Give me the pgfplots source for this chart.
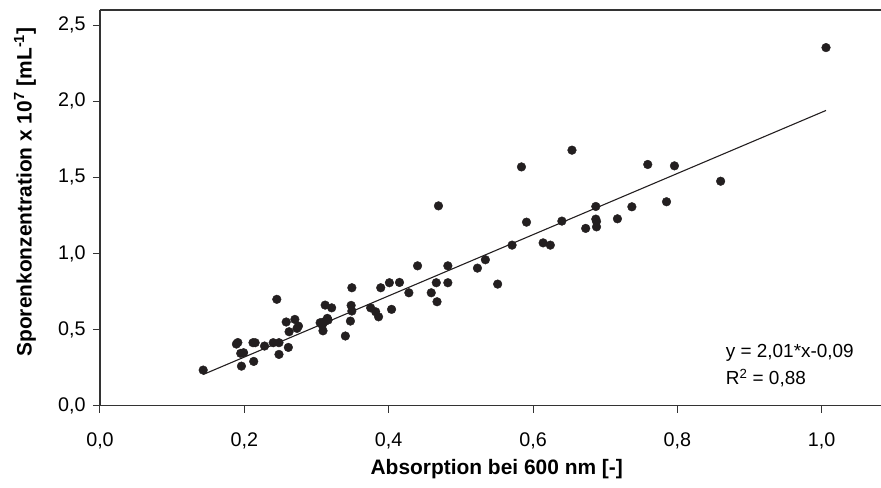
\documentclass[border=0pt]{standalone}
\usepackage{fontspec}
\setmainfont{Liberation Sans}
\usepackage{pgfplots}
\pgfplotsset{compat=1.18}
\definecolor{dot}{HTML}{231F20}
\definecolor{axc}{HTML}{333333}
\newcommand{\tf}{\fontsize{19.8}{23}\selectfont}
\newcommand{\af}{\fontsize{19}{23}\selectfont}
\newcommand{\lf}{\fontsize{21}{25}\selectfont}
\begin{document}
\begin{tikzpicture}
\begin{axis}[
  scale only axis, width=781bp, height=395.7bp,
  xmin=0, xmax=1.0822, ymin=0, ymax=2.6,
  axis x line*=box, axis y line*=left,
  axis line style={-, line width=1.1bp, axc},
  xtick={0,0.2,0.4,0.6,0.8,1.0}, ytick={0,0.5,1.0,1.5,2.0,2.5},
  xtick pos=bottom, ytick pos=left,
  tick align=outside, major tick length=7bp,
  tick style={line width=1bp, axc},
  minor tick num=0,
  /pgf/number format/.cd, assume math mode=true, use comma, fixed, fixed zerofill, precision=1,
  /pgfplots/.cd,
  ticklabel style={font=\tf},
  xticklabel style={yshift=-17bp},
  yticklabel style={xshift=-4bp},
  xlabel={\textbf{Absorption bei 600 nm [-]}},
  ylabel={\textbf{Sporenkonzentration x 10\textsuperscript{7} [mL\textsuperscript{-1}]}},
  label style={font=\lf},
  xlabel style={at={(axis description cs:0.508,-0.16)}, anchor=center},
  ylabel style={at={(axis description cs:-0.096,0.54)}, anchor=center, rotate=0},
  clip=false,
]
\addplot[only marks, mark=*, mark size=4.35bp, color=dot, mark options={draw=dot, fill=dot}] coordinates {
(0.143,0.234) (0.189,0.405) (0.191,0.415) (0.195,0.344) (0.199,0.348)
(0.196,0.260) (0.212,0.414) (0.215,0.414) (0.213,0.291) (0.228,0.392)
(0.240,0.414) (0.248,0.414) (0.248,0.337) (0.245,0.699) (0.261,0.383)
(0.258,0.550) (0.262,0.486) (0.270,0.567) (0.275,0.523) (0.273,0.508)
(0.312,0.661) (0.321,0.643) (0.305,0.545) (0.308,0.530) (0.315,0.574)
(0.316,0.563) (0.309,0.492) (0.311,0.552) (0.340,0.458) (0.349,0.775)
(0.348,0.659) (0.349,0.622) (0.347,0.556) (0.375,0.643) (0.382,0.617)
(0.386,0.584) (0.389,0.775) (0.401,0.808) (0.415,0.810) (0.404,0.633)
(0.428,0.742) (0.440,0.919) (0.459,0.742) (0.466,0.808) (0.467,0.683)
(0.469,1.313) (0.482,0.919) (0.482,0.808) (0.523,0.904) (0.534,0.959)
(0.551,0.799) (0.571,1.055) (0.584,1.569) (0.591,1.206) (0.614,1.070)
(0.624,1.055) (0.640,1.213) (0.654,1.679) (0.673,1.165) (0.687,1.309)
(0.687,1.226) (0.688,1.211) (0.688,1.175) (0.717,1.228) (0.737,1.307)
(0.759,1.585) (0.785,1.340) (0.796,1.576) (0.860,1.475) (1.006,2.353)
};
\addplot[line width=1.1bp, color=dot, no marks] coordinates {(0.143,0.205) (1.006,1.94)};
\node[anchor=base west, font=\af, inner sep=0pt] at (axis cs:0.867,0.317) {y = 2,01*x-0,09};
\node[anchor=base west, font=\af, inner sep=0pt] at (axis cs:0.867,0.140) {R\textsuperscript{2} = 0,88};
\end{axis}
\pgfresetboundingbox
\path[use as bounding box] ([xshift=-100bp,yshift=-82.3bp]current axis.south west) rectangle ([yshift=10bp]current axis.north east);
\end{tikzpicture}
\end{document}
